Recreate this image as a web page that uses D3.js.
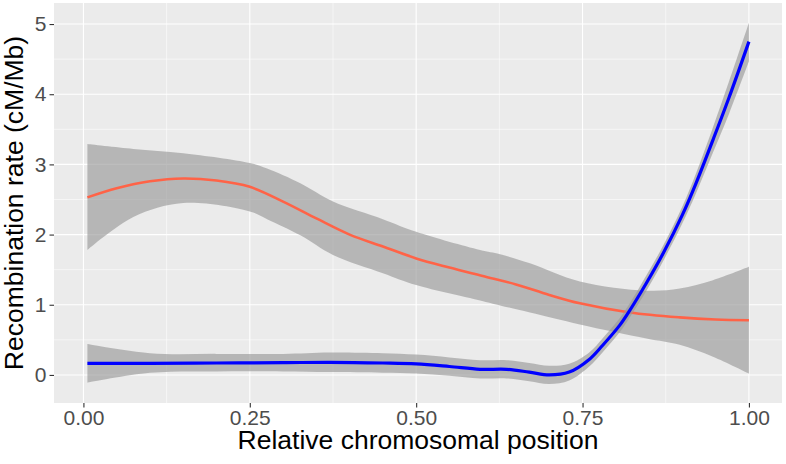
<!DOCTYPE html>
<html><head><meta charset="utf-8">
<script src="https://cdn.jsdelivr.net/npm/d3@7"></script>
<style>body{margin:0;background:#fff;}svg{display:block;font-family:"Liberation Sans",Arial,Helvetica,sans-serif;}</style>
</head><body>
<svg id="chart" width="786" height="464"></svg>
<script>
const xTicks = [0, 0.25, 0.5, 0.75, 1];
const xTickLabels = ["0.00", "0.25", "0.50", "0.75", "1.00"];
const yTicks = [0, 1, 2, 3, 4, 5];
const yTickLabels = ["0", "1", "2", "3", "4", "5"];
const xMinor = [0.125, 0.375, 0.625, 0.875];
const yMinor = [0.5, 1.5, 2.5, 3.5, 4.5];

const redX = [0.006,0.05,0.1,0.15,0.2,0.25,0.3,0.35,0.4,0.45,0.5,0.55,0.6,0.65,0.7,0.746,0.821,0.896,0.95,1.0];
const redY = [2.53,2.66,2.76,2.80,2.77,2.68,2.47,2.23,2.00,1.83,1.66,1.53,1.41,1.29,1.14,1.02,0.89,0.82,0.79,0.78];
const redBandX = [0.006,0.075,0.15,0.25,0.276,0.326,0.375,0.45,0.5,0.596,0.626,0.671,0.746,0.846,0.896,0.946,1.0];
const redHi = [3.29,3.22,3.16,3.02,2.94,2.73,2.47,2.22,2.04,1.78,1.72,1.59,1.33,1.20,1.23,1.35,1.54];
const redLo = [1.78,2.25,2.45,2.33,2.22,1.99,1.71,1.45,1.28,1.06,0.99,0.89,0.72,0.52,0.43,0.26,0.02];

const blueX = [0.006,0.1,0.2,0.3,0.37,0.45,0.5,0.55,0.596,0.636,0.67,0.7,0.73,0.76,0.78,0.806,0.821,0.846,0.871,0.9,0.92,0.946,0.97,1.0];
const blueY = [0.165,0.165,0.17,0.175,0.18,0.17,0.157,0.12,0.08,0.08,0.04,0.0,0.04,0.22,0.42,0.71,0.92,1.31,1.73,2.28,2.72,3.35,3.95,4.75];
const blueLo = [-0.11,0.03,0.05,0.05,0.04,0.03,0.02,-0.01,-0.05,-0.05,-0.09,-0.13,-0.08,0.12,0.32,0.61,0.82,1.2,1.62,2.16,2.58,3.17,3.72,4.47];
const blueHi = [0.44,0.31,0.3,0.3,0.32,0.31,0.29,0.25,0.21,0.21,0.17,0.13,0.16,0.32,0.52,0.81,1.02,1.42,1.84,2.40,2.86,3.53,4.18,5.02];

const xTitle = "Relative chromosomal position";
const yTitle = "Recombination rate (cM/Mb)";

const svg = d3.select("#chart");
const P = {left: 54, right: 782, top: 3, bottom: 403};
const x = d3.scaleLinear().domain([-0.0442, 1.0497]).range([P.left, P.right]);
const y = d3.scaleLinear().domain([-0.40, 5.30]).range([P.bottom, P.top]);

svg.append("rect").attr("x", P.left).attr("y", P.top)
  .attr("width", P.right - P.left).attr("height", P.bottom - P.top).attr("fill", "#EBEBEB");

const g = svg.append("g");
g.selectAll(".xminor").data(xMinor).join("line")
  .attr("x1", d => x(d)).attr("x2", d => x(d)).attr("y1", P.top).attr("y2", P.bottom)
  .attr("stroke", "#fff").attr("stroke-width", 0.55);
g.selectAll(".yminor").data(yMinor).join("line")
  .attr("y1", d => y(d)).attr("y2", d => y(d)).attr("x1", P.left).attr("x2", P.right)
  .attr("stroke", "#fff").attr("stroke-width", 0.55);
g.selectAll(".xmajor").data(xTicks).join("line")
  .attr("x1", d => x(d)).attr("x2", d => x(d)).attr("y1", P.top).attr("y2", P.bottom)
  .attr("stroke", "#fff").attr("stroke-width", 1.1);
g.selectAll(".ymajor").data(yTicks).join("line")
  .attr("y1", d => y(d)).attr("y2", d => y(d)).attr("x1", P.left).attr("x2", P.right)
  .attr("stroke", "#fff").attr("stroke-width", 1.1);

const curve = d3.curveCatmullRom.alpha(0.5);
function band(xs, lo, hi) {
  return d3.area().x((d, i) => x(xs[i])).y0((d, i) => y(lo[i])).y1((d, i) => y(hi[i])).curve(curve)(xs);
}
function line(xs, ys) {
  return d3.line().x((d, i) => x(xs[i])).y((d, i) => y(ys[i])).curve(curve)(xs);
}

svg.append("path").attr("d", band(redBandX, redLo, redHi)).attr("fill", "#999999").attr("fill-opacity", 0.65);
svg.append("path").attr("d", line(redX, redY)).attr("fill", "none").attr("stroke", "#FF6347").attr("stroke-width", 2.6);
svg.append("path").attr("d", band(blueX, blueLo, blueHi)).attr("fill", "#999999").attr("fill-opacity", 0.65);
svg.append("path").attr("d", line(blueX, blueY)).attr("fill", "none").attr("stroke", "#0000FF").attr("stroke-width", 3.2);

// axes
const xAxis = d3.axisBottom(x).tickValues(xTicks).tickFormat((d, i) => xTickLabels[i]).tickSize(4.5).tickPadding(3);
const xa = svg.append("g").attr("transform", `translate(0,${P.bottom})`).call(xAxis);
xa.select(".domain").remove();
xa.selectAll("line").attr("stroke", "#333333").attr("stroke-width", 1.1);
xa.selectAll("text").attr("fill", "#4D4D4D").style("font-size", "21px").style("font-family", "Liberation Sans, Arial, sans-serif");

const yAxis = d3.axisLeft(y).tickValues(yTicks).tickFormat((d, i) => yTickLabels[i]).tickSize(4.5).tickPadding(3);
const ya = svg.append("g").attr("transform", `translate(${P.left},0)`).call(yAxis);
ya.select(".domain").remove();
ya.selectAll("line").attr("stroke", "#333333").attr("stroke-width", 1.1);
ya.selectAll("text").attr("fill", "#4D4D4D").style("font-size", "21px").style("font-family", "Liberation Sans, Arial, sans-serif");

svg.append("text").attr("x", (P.left + P.right) / 2).attr("y", 449)
  .attr("text-anchor", "middle").attr("fill", "#000").style("font-size", "26.5px").text(xTitle);
svg.append("text").attr("transform", `translate(22.5,${(P.top + P.bottom) / 2}) rotate(-90)`)
  .attr("text-anchor", "middle").attr("fill", "#000").style("font-size", "26.5px").text(yTitle);
</script>
</body></html>
